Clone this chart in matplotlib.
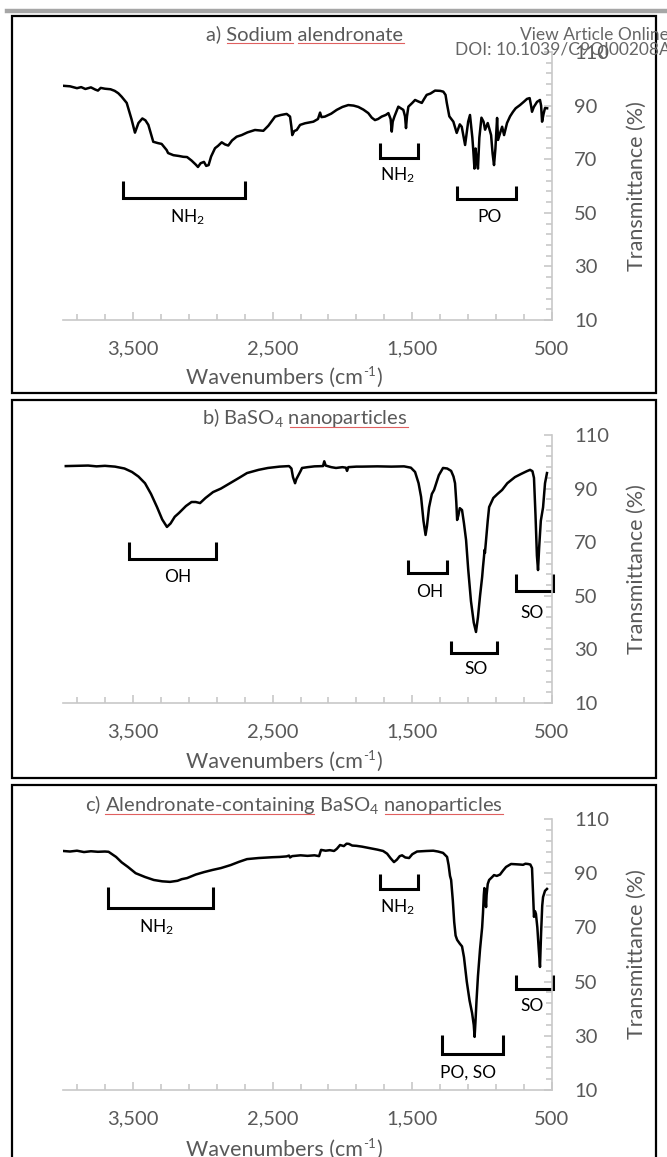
import matplotlib
matplotlib.use("Agg")
import matplotlib.pyplot as plt
import numpy as np
from matplotlib.lines import Line2D
from matplotlib.patches import Rectangle

plt.rcParams['font.family'] = ['Lato', 'DejaVu Sans']
plt.rcParams['mathtext.fontset'] = 'custom'
plt.rcParams['mathtext.rm'] = 'Lato'
plt.rcParams['mathtext.it'] = 'Lato:italic'
plt.rcParams['mathtext.bf'] = 'Lato:bold'
plt.rcParams['mathtext.default'] = 'regular'

# ---- data ----
# a) sodium alendronate
wn_a = [4000, 3950, 3900, 3870, 3840, 3800, 3770, 3750, 3730, 3700, 3660, 3630, 3604, 3580,
        3544, 3510, 3485, 3460, 3432, 3410, 3389, 3354, 3320, 3294, 3258, 3248, 3210, 3170,
        3140, 3112, 3080, 3050, 3034, 3015, 2991, 2975, 2958, 2940, 2912, 2890, 2864, 2840,
        2817, 2790, 2757, 2721, 2680, 2626, 2566, 2530, 2482, 2440, 2399, 2375, 2365, 2359,
        2345, 2327, 2303, 2268, 2208, 2175, 2160, 2150, 2125, 2080, 2041, 2000, 1958, 1920,
        1886, 1850, 1815, 1790, 1767, 1745, 1719, 1690, 1671, 1655, 1647, 1640, 1628, 1600,
        1564, 1552, 1545, 1538, 1528, 1500, 1480, 1455, 1432, 1415, 1397, 1370, 1337, 1300,
        1278, 1262, 1253, 1235, 1206, 1182, 1160, 1146, 1122, 1100, 1087, 1070, 1063, 1055,
        1047, 1040, 1030, 1020, 1005, 990, 979, 960, 936, 925, 915, 905, 893, 886, 870, 857,
        843, 822, 800, 779, 760, 729, 700, 679, 660, 650, 643, 630, 607, 586, 578, 571, 560,
        550, 535]
t_a = [97.4, 97.2, 96.5, 96.9, 96.2, 96.8, 96.0, 95.6, 96.6, 96.3, 96.1, 95.5, 94.6, 93.3,
       91.0, 85.0, 79.9, 83.5, 85.2, 84.5, 82.8, 76.5, 76.0, 75.7, 73.4, 72.3, 71.5, 71.2,
       70.9, 70.8, 69.5, 68.0, 67.1, 68.5, 69.0, 67.5, 67.8, 71.0, 74.1, 75.0, 76.3, 75.5,
       75.1, 77.0, 78.4, 79.0, 80.0, 80.9, 80.6, 82.5, 85.9, 86.5, 86.9, 85.9, 82.0, 79.0,
       80.5, 80.9, 82.8, 83.4, 84.0, 85.0, 87.4, 85.7, 85.9, 87.0, 88.4, 89.5, 90.2, 90.0,
       89.5, 88.5, 87.2, 85.5, 84.6, 85.0, 85.9, 86.5, 87.2, 85.0, 80.3, 84.0, 85.9, 89.6,
       88.4, 86.0, 81.6, 86.0, 89.6, 91.0, 92.1, 91.5, 91.0, 92.5, 94.0, 94.5, 95.6, 95.5,
       95.2, 94.0, 91.0, 86.0, 84.0, 79.8, 83.0, 82.1, 75.3, 84.0, 86.5, 78.0, 73.0, 66.5,
       74.0, 70.0, 66.5, 78.0, 85.5, 84.0, 81.0, 83.5, 79.0, 72.0, 67.8, 74.0, 85.4, 77.2,
       80.0, 82.1, 79.0, 83.5, 86.0, 87.7, 89.0, 90.2, 91.5, 92.5, 92.8, 90.0, 87.7, 89.5,
       91.4, 92.1, 90.0, 84.0, 87.0, 89.1, 89.0]

# b) BaSO4 nanoparticles
wn_b = [3980, 3900, 3820, 3760, 3700, 3628, 3560, 3506, 3460, 3413, 3370, 3327, 3290, 3256,
        3230, 3200, 3170, 3120, 3080, 3050, 3019, 2980, 2926, 2870, 2805, 2740, 2683, 2600,
        2533, 2450, 2382, 2365, 2354, 2339, 2330, 2318, 2300, 2289, 2250, 2200, 2139, 2130,
        2120, 2080, 2046, 2000, 1975, 1967, 1958, 1900, 1860, 1750, 1650, 1559, 1510, 1480,
        1455, 1437, 1420, 1405, 1395, 1380, 1360, 1344, 1310, 1280, 1250, 1222, 1205, 1194,
        1185, 1179, 1170, 1160, 1144, 1130, 1115, 1100, 1080, 1060, 1044, 1030, 1015, 1000,
        994, 987, 983, 980, 975, 960, 950, 920, 890, 857, 820, 765, 720, 680, 657, 640, 629,
        618, 608, 600, 592, 580, 564, 550, 536]
t_b = [98.4, 98.5, 98.6, 98.3, 98.5, 98.2, 97.5, 96.2, 94.5, 92.0, 88.0, 83.1, 78.5, 75.7,
       77.0, 79.5, 80.9, 83.5, 85.0, 85.0, 84.6, 86.5, 88.7, 90.0, 92.0, 94.0, 95.8, 97.0,
       97.7, 98.2, 98.4, 97.5, 94.3, 92.0, 93.5, 94.7, 96.5, 97.7, 98.0, 98.3, 98.4, 100.2,
       98.6, 98.0, 97.7, 98.0, 97.8, 96.6, 98.0, 98.2, 98.2, 98.3, 98.2, 98.3, 97.8, 96.2,
       92.0, 86.9, 78.0, 72.7, 76.0, 83.0, 88.0, 89.5, 95.0, 97.7, 97.5, 96.6, 94.5, 92.0,
       85.0, 78.3, 80.0, 82.7, 82.0, 77.0, 70.8, 60.0, 48.0, 40.0, 36.5, 42.0, 50.0, 57.0,
       60.7, 64.5, 67.1, 66.0, 69.0, 78.0, 83.1, 86.5, 88.0, 89.5, 92.0, 94.3, 95.5, 96.5,
       97.0, 96.5, 94.0, 80.0, 65.0, 59.6, 68.0, 78.0, 83.0, 92.0, 95.8]

# c) alendronate-containing BaSO4 nanoparticles
wn_c = [4000, 3950, 3900, 3850, 3800, 3750, 3700, 3674, 3620, 3580, 3535, 3480, 3413, 3350,
        3290, 3234, 3180, 3150, 3112, 3050, 2991, 2930, 2869, 2800, 2740, 2683, 2600, 2500,
        2450, 2400, 2382, 2375, 2360, 2300, 2250, 2200, 2167, 2160, 2153, 2120, 2090, 2060,
        2040, 2017, 1990, 1970, 1953, 1930, 1900, 1860, 1800, 1750, 1709, 1680, 1655, 1631,
        1610, 1590, 1573, 1550, 1523, 1500, 1466, 1400, 1350, 1316, 1280, 1251, 1240, 1230,
        1222, 1210, 1200, 1190, 1179, 1160, 1144, 1130, 1110, 1090, 1072, 1060, 1054, 1048,
        1040, 1030, 1015, 1000, 994, 988, 984, 978, 972, 968, 960, 950, 930, 915, 895, 872,
        850, 829, 793, 760, 730, 707, 690, 672, 655, 643, 636, 629, 622, 615, 605, 595, 586,
        578, 570, 564, 550, 536]
t_c = [98.2, 98.0, 98.3, 97.8, 98.1, 97.9, 98.0, 97.9, 96.0, 94.0, 92.3, 90.0, 88.6, 87.5,
       87.0, 86.8, 87.2, 87.8, 88.2, 89.5, 90.4, 91.2, 91.9, 93.0, 94.2, 95.2, 95.6, 95.9,
       96.0, 96.2, 96.5, 95.8, 96.3, 96.6, 96.4, 96.6, 96.3, 97.5, 98.6, 98.3, 98.5, 98.2,
       99.0, 100.4, 100.0, 100.9, 100.8, 100.2, 100.1, 99.8, 99.2, 98.7, 98.2, 97.2, 95.5, 94.1,
       95.0, 96.3, 96.6, 95.8, 95.6, 97.0, 98.0, 98.2, 98.3, 98.0, 97.5, 96.0, 93.0, 89.0,
       87.5, 80.0, 72.0, 67.0, 65.4, 64.0, 63.0, 59.0, 50.0, 43.0, 38.4, 34.0, 29.6, 35.0,
       43.2, 52.0, 62.0, 70.0, 75.3, 82.0, 84.5, 82.0, 77.5, 82.0, 86.0, 87.5, 88.5, 89.3,
       89.0, 89.5, 91.0, 92.3, 93.4, 93.3, 93.2, 93.1, 93.5, 93.4, 93.2, 91.9, 83.0, 73.9,
       76.0, 75.0, 70.0, 62.0, 55.4, 68.0, 78.0, 81.2, 83.5, 84.2]

# band brackets: (wn left, wn right, T top, T bottom, label, label wn, label T)
brackets_a = [(3574, 2694, 61.9, 55.5, 'NH$_2$', 3112, 48.5),
              (1734, 1457, 76.0, 70.4, 'NH$_2$', 1602, 64.0),
              (1179, 757, 60.0, 55.1, 'PO', 950, 48.5)]
brackets_b = [(3528, 2905, 70.1, 63.7, 'OH', 3177, 57.0),
              (1531, 1251, 63.4, 58.5, 'OH', 1373, 51.4),
              (1222, 893, 33.1, 28.7, 'SO', 1044, 22.7),
              (757, 492, 58.0, 51.8, 'SO', 643, 43.6)]
brackets_c = [(3678, 2926, 84.9, 77.2, 'NH$_2$', 3327, 70.1),
              (1731, 1459, 89.7, 84.2, 'NH$_2$', 1602, 77.5),
              (1287, 850, 30.3, 23.3, 'PO, SO', 1101, 16.3),
              (757, 492, 52.4, 47.3, 'SO', 643, 41.0)]

titles = ['a) Sodium alendronate',
          'b) BaSO$_4$ nanoparticles',
          'c) Alendronate-containing BaSO$_4$ nanoparticles']
# words with the red spell-check underline: (prefix, word)
underlined = [[('a) ', 'Sodium'), ('a) Sodium ', 'alendronate')],
              [('b) BaSO$_4$ ', 'nanoparticles')],
              [('c) ', 'Alendronate-containing'),
               ('c) Alendronate-containing BaSO$_4$ ', 'nanoparticles')]]

x_major = [3500, 2500, 1500, 500]
x_major_labels = ['3,500', '2,500', '1,500', '500']
y_major = [10, 30, 50, 70, 90, 110]

# ---- layout (pixels in a 667x1157 canvas) ----
W, H = 667, 1157
AXC = '#c8c8c8'
TXT = '#595959'


def fx(px):
    return px / W


def fy(py):
    return 1 - py / H


fig = plt.figure(figsize=(W / 100, H / 100), dpi=100)

panels = [
    # axes top/bottom, box top/bottom, title (x, baseline), xlabel y
    dict(ax_top=52, ax_bot=320, box=(16, 393), title=(305, 40), xlab=378),
    dict(ax_top=435, ax_bot=703, box=(400, 778), title=(305, 424), xlab=762),
    dict(ax_top=819, ax_bot=1090, box=(785, 1175), title=(294, 811), xlab=1150),
]
spectra = [(wn_a, t_a, brackets_a), (wn_b, t_b, brackets_b), (wn_c, t_c, brackets_c)]

ax_left, ax_right = 63, 552

# grey rule on top of the page
fig.add_artist(Line2D([fx(7), 1.0], [fy(11), fy(11)], transform=fig.transFigure,
                      color='#a6a6a6', lw=3.2))

renderer = fig.canvas.get_renderer()


def text_width(s, size):
    t = fig.text(0, 0, s, fontsize=size)
    w = t.get_window_extent(renderer).width
    t.remove()
    return w


LAB = 15.5
SUP = 9.5

for i, (p, (wn, tr, brs)) in enumerate(zip(panels, spectra)):
    ax = fig.add_axes([fx(ax_left), fy(p['ax_bot']), fx(ax_right - ax_left),
                       (p['ax_bot'] - p['ax_top']) / H])
    ax.plot(wn, tr, color='black', lw=1.8, solid_joinstyle='round')
    ax.set_xlim(4000, 500)
    ax.set_ylim(10, 110)
    ax.patch.set_alpha(0)
    for s in ['top', 'left']:
        ax.spines[s].set_visible(False)
    for s in ['bottom', 'right']:
        ax.spines[s].set_color(AXC)
        ax.spines[s].set_linewidth(1.2)
    ax.yaxis.tick_right()
    ax.set_xticks(x_major)
    ax.set_xticklabels(x_major_labels)
    ax.set_xticks(np.arange(500, 4000, 200), minor=True)
    ax.set_yticks(y_major)
    ax.set_yticks(np.arange(10, 111, 4), minor=True)
    ax.tick_params(which='both', direction='in', color=AXC, width=1.2,
                   labelcolor=TXT, labelsize=14.5)
    ax.tick_params(which='major', length=6)
    ax.tick_params(which='minor', length=4)
    ax.tick_params(axis='x', pad=15)
    ax.tick_params(axis='y', pad=16)

    for x1, x2, ytop, ybot, lab, lx, ly in brs:
        ax.plot([x1, x1, x2, x2], [ytop, ybot, ybot, ytop], color='black', lw=2.2,
                clip_on=False, solid_joinstyle='miter', solid_capstyle='butt')
        ax.text(lx, ly, lab, ha='center', va='center', fontsize=12.5, color='black')

    ymid = (p['ax_top'] + p['ax_bot']) / 2
    fig.text(fx(637), fy(ymid), 'Transmittance (%)', rotation=90, ha='center',
             va='center', fontsize=LAB, color=TXT)

    # x label "Wavenumbers (cm-1)" with a plain hyphen in the superscript
    parts = ['Wavenumbers (cm', '-1', ')']
    widths = [text_width(parts[0], LAB), text_width(parts[1], SUP), text_width(parts[2], LAB)]
    x0 = 284 - sum(widths) / 2
    base = p['xlab'] + 6
    fig.text(fx(x0), fy(base), parts[0], ha='left', va='baseline', fontsize=LAB, color=TXT)
    fig.text(fx(x0 + widths[0]), fy(base - 8), parts[1], ha='left', va='baseline',
             fontsize=SUP, color=TXT)
    fig.text(fx(x0 + widths[0] + widths[1]), fy(base), parts[2], ha='left', va='baseline',
             fontsize=LAB, color=TXT)

    # panel frame
    b0, b1 = p['box']
    fig.add_artist(Rectangle((fx(12), fy(b1)), fx(656 - 12), (b1 - b0) / H,
                             transform=fig.transFigure, fill=False, ec='black', lw=1.6))

    # title with spell-check underlines
    tsize = 14.5
    xc, yb = p['title']
    fig.text(fx(xc), fy(yb), titles[i], ha='center', va='baseline', fontsize=tsize,
             color=TXT)
    full_w = text_width(titles[i], tsize)
    left = xc - full_w / 2
    for prefix, word in underlined[i]:
        end = left + text_width(prefix + word, tsize)
        start = end - text_width(word, tsize)
        fig.add_artist(Line2D([fx(start), fx(end)], [fy(yb + 3), fy(yb + 3)],
                              transform=fig.transFigure, color='#e06060', lw=0.8))

fig.text(1.003, fy(35), 'View Article Online', ha='right', va='center', fontsize=12.5,
         color='#666666')
fig.text(1.006, fy(50), 'DOI: 10.1039/C9QI00208A', ha='right', va='center',
         fontsize=12.5, color='#666666')

fig.savefig('out.png', dpi=100)
